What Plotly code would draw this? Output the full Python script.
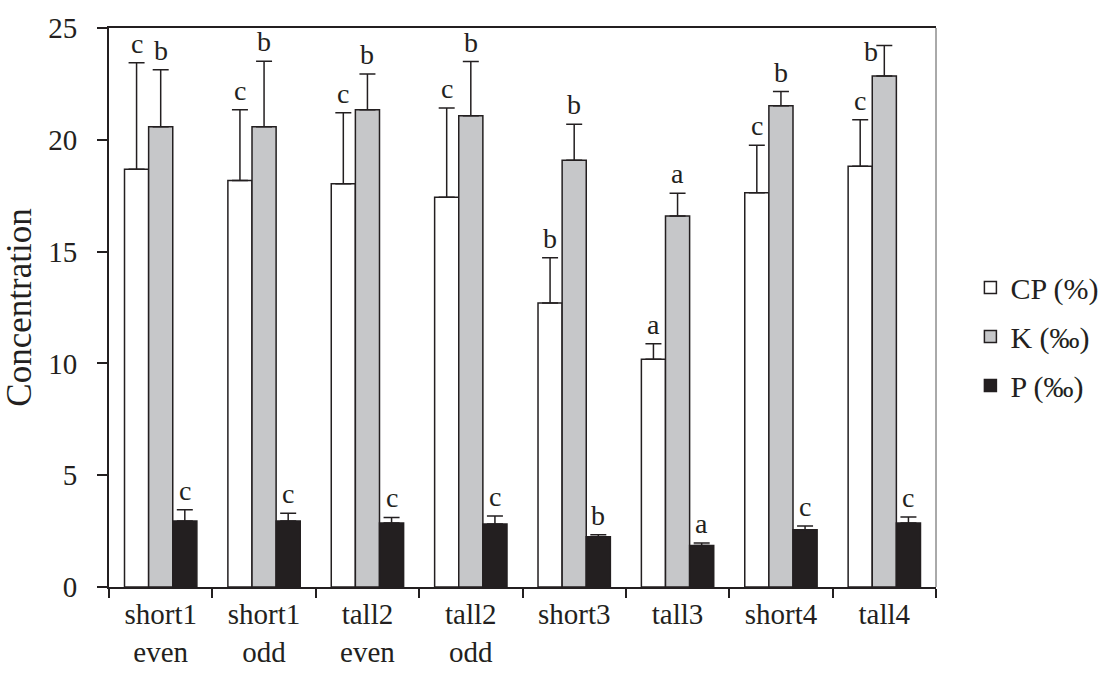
import plotly.graph_objects as go

categories = ["short1<br>even", "short1<br>odd", "tall2<br>even", "tall2<br>odd",
              "short3", "tall3", "short4", "tall4"]

cp_values = [18.68, 18.18, 18.03, 17.43, 12.70, 10.19, 17.63, 18.82]
cp_errors = [4.77, 3.16, 3.18, 3.99, 2.02, 0.69, 2.13, 2.08]
cp_letters = ["c", "c", "c", "c", "b", "a", "c", "c"]

k_values = [20.58, 20.58, 21.34, 21.07, 19.09, 16.59, 21.52, 22.85]
k_errors = [2.55, 2.93, 1.60, 2.43, 1.61, 1.02, 0.64, 1.37]
k_letters = ["b", "b", "b", "b", "b", "a", "b", "b"]

p_values = [2.95, 2.95, 2.86, 2.82, 2.25, 1.86, 2.56, 2.86]
p_errors = [0.50, 0.35, 0.25, 0.35, 0.09, 0.11, 0.17, 0.27]
p_letters = ["c", "c", "c", "c", "b", "a", "c", "c"]

series_names = ["CP (%)", "K (‰)", "P (‰)"]
series_colors = ["#ffffff", "#c6c7c9", "#231f20"]

ink = "#231f20"
font_family = "Liberation Serif"

fig = go.Figure()
series = [(cp_values, cp_errors, cp_letters), (k_values, k_errors, k_letters),
          (p_values, p_errors, p_letters)]

for j, ((vals, errs, _), name, color) in enumerate(zip(series, series_names, series_colors)):
    fig.add_trace(go.Bar(
        x=categories, y=vals, name=name, legendgroup=name,
        marker=dict(color=color, line=dict(color=ink, width=1.5)),
        error_y=dict(type="data", symmetric=False, array=errs,
                     arrayminus=[0] * len(errs), color=ink, thickness=1.5, width=8),
    ))

bar_w = 0.7 / 3
for j, (vals, errs, letters) in enumerate(series):
    off = (j - 1) * bar_w
    for i, (v, e, t) in enumerate(zip(vals, errs, letters)):
        xs, ys = 0, 2
        if j == 1 and i == 7:
            xs, ys = -13, -24
        fig.add_annotation(x=i + off, y=v + e, text=t, showarrow=False,
                           xref="x", yref="y", yanchor="bottom",
                           xshift=xs, yshift=ys,
                           font=dict(family=font_family, size=28, color=ink))

fig.add_shape(type="line", xref="paper", yref="paper", x0=1, x1=1, y0=0, y1=1,
              line=dict(color="#555555", width=1))

fig.update_layout(
    width=1116, height=680,
    margin=dict(l=109, r=167, t=26, b=83),
    paper_bgcolor="white", plot_bgcolor="white",
    barmode="group", bargap=0.3, bargroupgap=0,
    font=dict(family=font_family, size=28, color=ink),
    showlegend=True,
    legend=dict(x=1.0416, xanchor="left", y=0.448, yanchor="middle",
                font=dict(family=font_family, size=30, color=ink),
                tracegroupgap=7, bgcolor="rgba(0,0,0,0)"),
    xaxis=dict(type="category", showline=True, linecolor=ink, linewidth=2,
               mirror=True, ticks="outside", tickson="boundaries",
               ticklen=9, tickwidth=2, tickcolor=ink, showgrid=False,
               tickfont=dict(family=font_family, size=29, color=ink),
               range=[-0.5, 7.5]),
    yaxis=dict(range=[0, 25], dtick=5, showline=True, linecolor=ink, linewidth=2,
               ticks="outside", ticklen=10, tickwidth=2, tickcolor=ink,
               showgrid=False, zeroline=False, ticklabelstandoff=14,
               tickfont=dict(family=font_family, size=29, color=ink),
               title=dict(text="Concentration", standoff=12,
                          font=dict(family=font_family, size=35, color=ink))),
)

fig.write_html("out.html")
